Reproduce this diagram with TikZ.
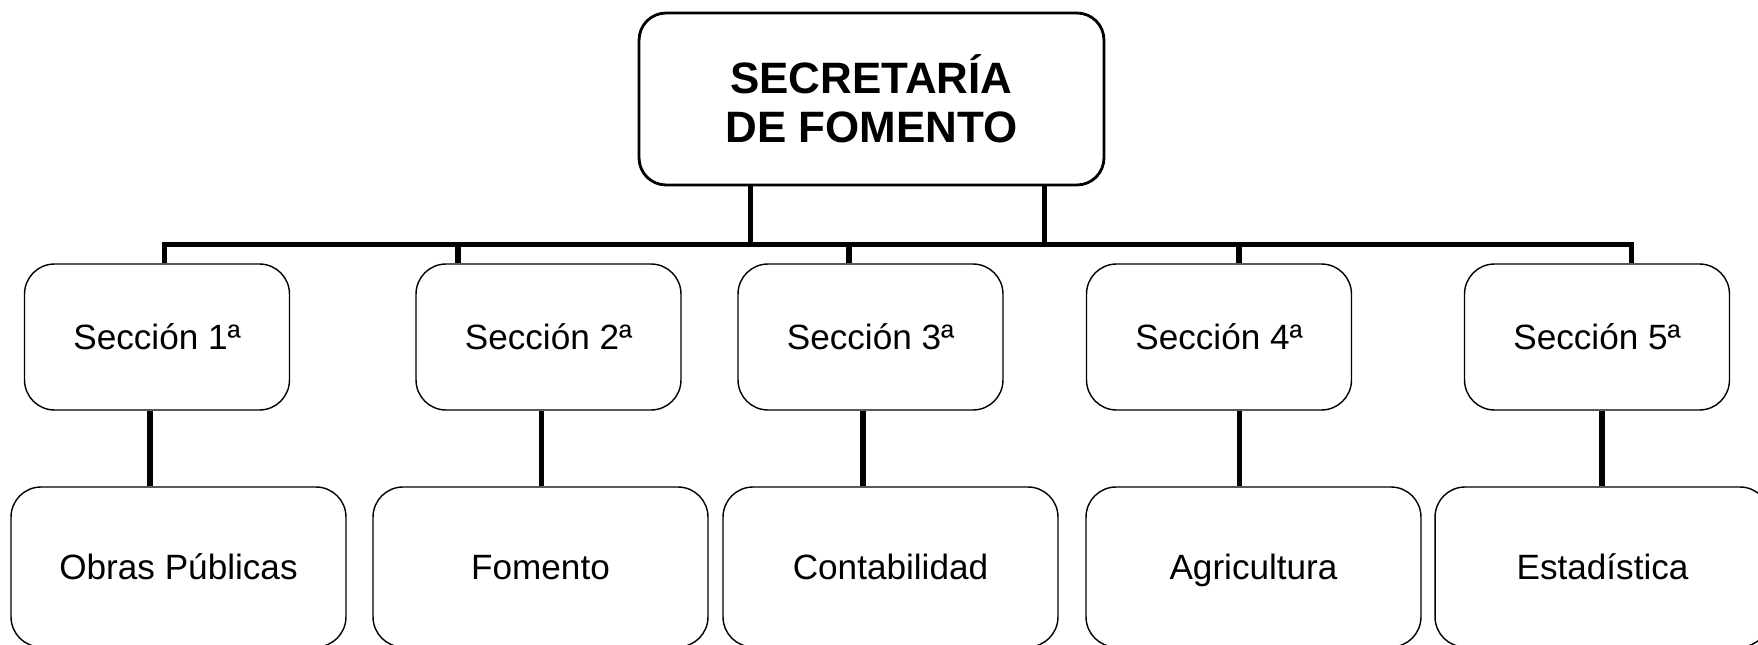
\documentclass[tikz,border=0pt]{standalone}
\usepackage{fontspec}
\setmainfont{Liberation Sans}
\usepackage{tikz}

\begin{document}
\begin{tikzpicture}[x=0.02cm, y=-0.02cm,
    headbox/.style={draw, line width=1.6pt, rounded corners=0.54cm, minimum width=9.3cm, minimum height=3.44cm, align=center, font=\fontsize{25}{28}\selectfont\bfseries},
    secbox/.style={draw, line width=0.8pt, rounded corners=0.6cm, minimum width=5.3cm, minimum height=2.92cm, text height=14.3pt, text depth=0pt, font=\fontsize{20}{24}\selectfont},
    deptbox/.style={draw, line width=0.8pt, rounded corners=0.6cm, minimum width=6.7cm, minimum height=3.2cm, text height=14.3pt, text depth=0pt, font=\fontsize{20}{24}\selectfont},
    link/.style={line width=3pt}]
    % Picture frame (boxes at the bottom and right are cut off)
    \clip (0,0) rectangle (1758,645);

    % Head office
    \node[headbox] (head) at (871.5,99) {SECRETARÍA\\DE FOMENTO};

    % Sections
    \node[secbox] (s1) at (157,337) {Sección 1ª};
    \node[secbox] (s2) at (548.5,337) {Sección 2ª};
    \node[secbox] (s3) at (870.5,337) {Sección 3ª};
    \node[secbox] (s4) at (1219,337) {Sección 4ª};
    \node[secbox] (s5) at (1597,337) {Sección 5ª};

    % Departments
    \node[deptbox] (d1) at (178.5,567) {Obras Públicas};
    \node[deptbox] (d2) at (540.5,567) {Fomento};
    \node[deptbox] (d3) at (890.5,567) {Contabilidad};
    \node[deptbox] (d4) at (1253.5,567) {Agricultura};
    \node[deptbox] (d5) at (1602.5,567) {Estadística};

    % Bus and drop points
    \coordinate (t1) at (750.5,244.5);
    \coordinate (t2) at (1044.5,244.5);
    \coordinate (b1) at (164.5,244.5);
    \coordinate (b2) at (458,244.5);
    \coordinate (b3) at (849,244.5);
    \coordinate (b4) at (1239,244.5);
    \coordinate (b5) at (1631.5,244.5);

    % Head office down to the bus
    \draw[link] (t1 |- head.south) -- (t1);
    \draw[link] (t2 |- head.south) -- (t2);

    % Bus with drops to the sections
    \draw[link] (b1 |- s1.north) -- (b1) -- (b5) -- (b5 |- s5.north);
    \draw[link] (b2) -- (b2 |- s2.north);
    \draw[link] (b3) -- (b3 |- s3.north);
    \draw[link] (b4) -- (b4 |- s4.north);

    % Sections down to departments
    \coordinate (v1) at (150,0);
    \coordinate (v2) at (541.5,0);
    \coordinate (v3) at (863,0);
    \coordinate (v4) at (1239.5,0);
    \coordinate (v5) at (1602,0);
    \draw[link] (v1 |- s1.south) -- (v1 |- d1.north);
    \draw[link] (v2 |- s2.south) -- (v2 |- d2.north);
    \draw[link] (v3 |- s3.south) -- (v3 |- d3.north);
    \draw[link] (v4 |- s4.south) -- (v4 |- d4.north);
    \draw[link] (v5 |- s5.south) -- (v5 |- d5.north);
\end{tikzpicture}
\end{document}
